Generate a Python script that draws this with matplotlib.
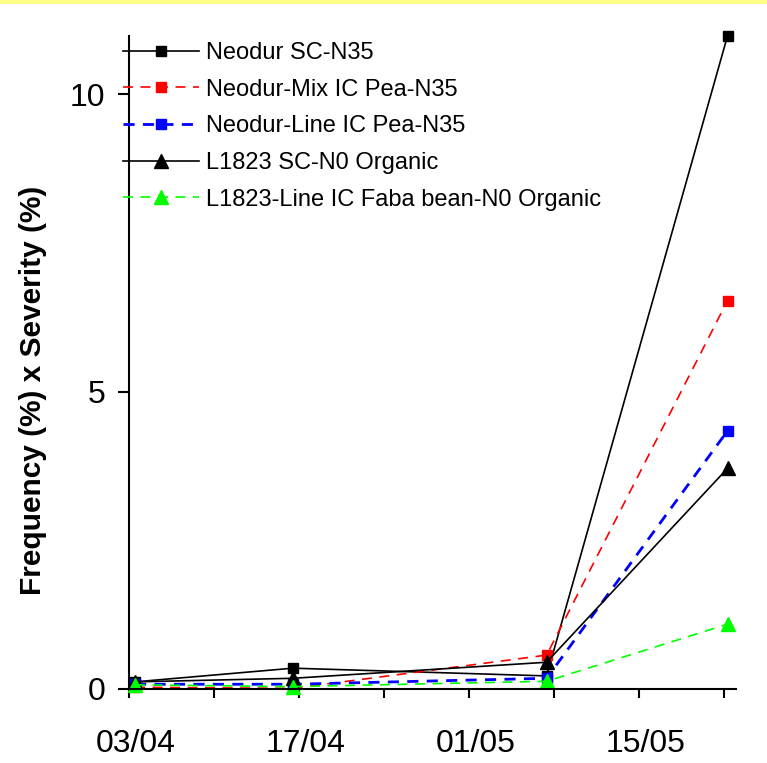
import matplotlib.pyplot as plt
from matplotlib.patches import Rectangle
from matplotlib.transforms import ScaledTranslation

plt.rcParams['font.family'] = ['Liberation Sans', 'DejaVu Sans']

# Sampling dates as days after 03/04
days = [0.5, 13.5, 34.4, 49.3]

# Frequency (%) x Severity (%)
neodur_sc = [0.12, 0.35, 0.22, 10.98]
neodur_mix = [0.03, 0.01, 0.57, 6.53]
neodur_line = [0.08, 0.08, 0.18, 4.34]
l1823_sc = [0.12, 0.18, 0.45, 3.71]
l1823_line = [0.07, 0.04, 0.13, 1.09]

labels = ['Neodur SC-N35', 'Neodur-Mix IC Pea-N35', 'Neodur-Line IC Pea-N35',
          'L1823 SC-N0 Organic', 'L1823-Line IC Faba bean-N0 Organic']

major_days = [0, 14, 28, 42]
major_labels = ['03/04', '17/04', '01/05', '15/05']
minor_days = [7, 21, 35, 49]

fig = plt.figure(figsize=(7.67, 7.63), dpi=100)
ax = fig.add_axes([129 / 767, 74 / 763, 607 / 767, 653 / 763])

# thin yellow strip at top of picture
fig.patches.append(Rectangle((0, 1 - 4 / 763), 1, 4 / 763, transform=fig.transFigure,
                             facecolor='#ffff88', edgecolor='none'))

ax.plot(days, neodur_sc, color='black', lw=1.2, marker='s', ms=7.5,
        label=labels[0], clip_on=False)
ax.plot(days, neodur_mix, color='#ff0000', lw=1.2, ls=(0, (6, 4.5)), marker='s', ms=7.5,
        label=labels[1], clip_on=False)
ax.plot(days, neodur_line, color='#0000ff', lw=2.0, ls=(0, (4, 3)), marker='s', ms=7.5,
        label=labels[2], clip_on=False)
ax.plot(days, l1823_sc, color='black', lw=1.2, marker='^', ms=10,
        label=labels[3], clip_on=False)
ax.plot(days, l1823_line, color='#00ff00', lw=1.2, ls=(0, (6, 4.5)), marker='^', ms=10,
        label=labels[4], clip_on=False)

ax.set_xlim(0, 50)
ax.set_ylim(0, 10.98)
ax.set_xticks(major_days)
ax.set_xticklabels(major_labels)
ax.set_xticks(minor_days, minor=True)
ax.set_yticks([0, 5, 10])

for s in ['top', 'right']:
    ax.spines[s].set_visible(False)
for s in ['left', 'bottom']:
    ax.spines[s].set_linewidth(1.5)

ax.tick_params(axis='x', which='both', direction='out', length=6.5, width=1.5,
               labelsize=23, pad=22)
ax.tick_params(axis='y', direction='out', length=8, width=1.5, labelsize=23, pad=9)

# date labels sit a little right of their ticks
shift = ScaledTranslation(7 / 100, 0, fig.dpi_scale_trans)
for lab in ax.get_xticklabels():
    lab.set_transform(lab.get_transform() + shift)

ax.set_ylabel('Frequency (%) x Severity (%)', fontsize=21.5, fontweight='bold')
ax.yaxis.set_label_coords(-0.135, 0.458)

ax.legend(loc='upper left', bbox_to_anchor=(123 / 767, 1 - 42 / 763),
          bbox_transform=fig.transFigure, frameon=False, fontsize=17,
          handlelength=3.2, handletextpad=0.3, labelspacing=0.62,
          borderpad=0, borderaxespad=0)

fig.savefig('out.png', dpi=100)
